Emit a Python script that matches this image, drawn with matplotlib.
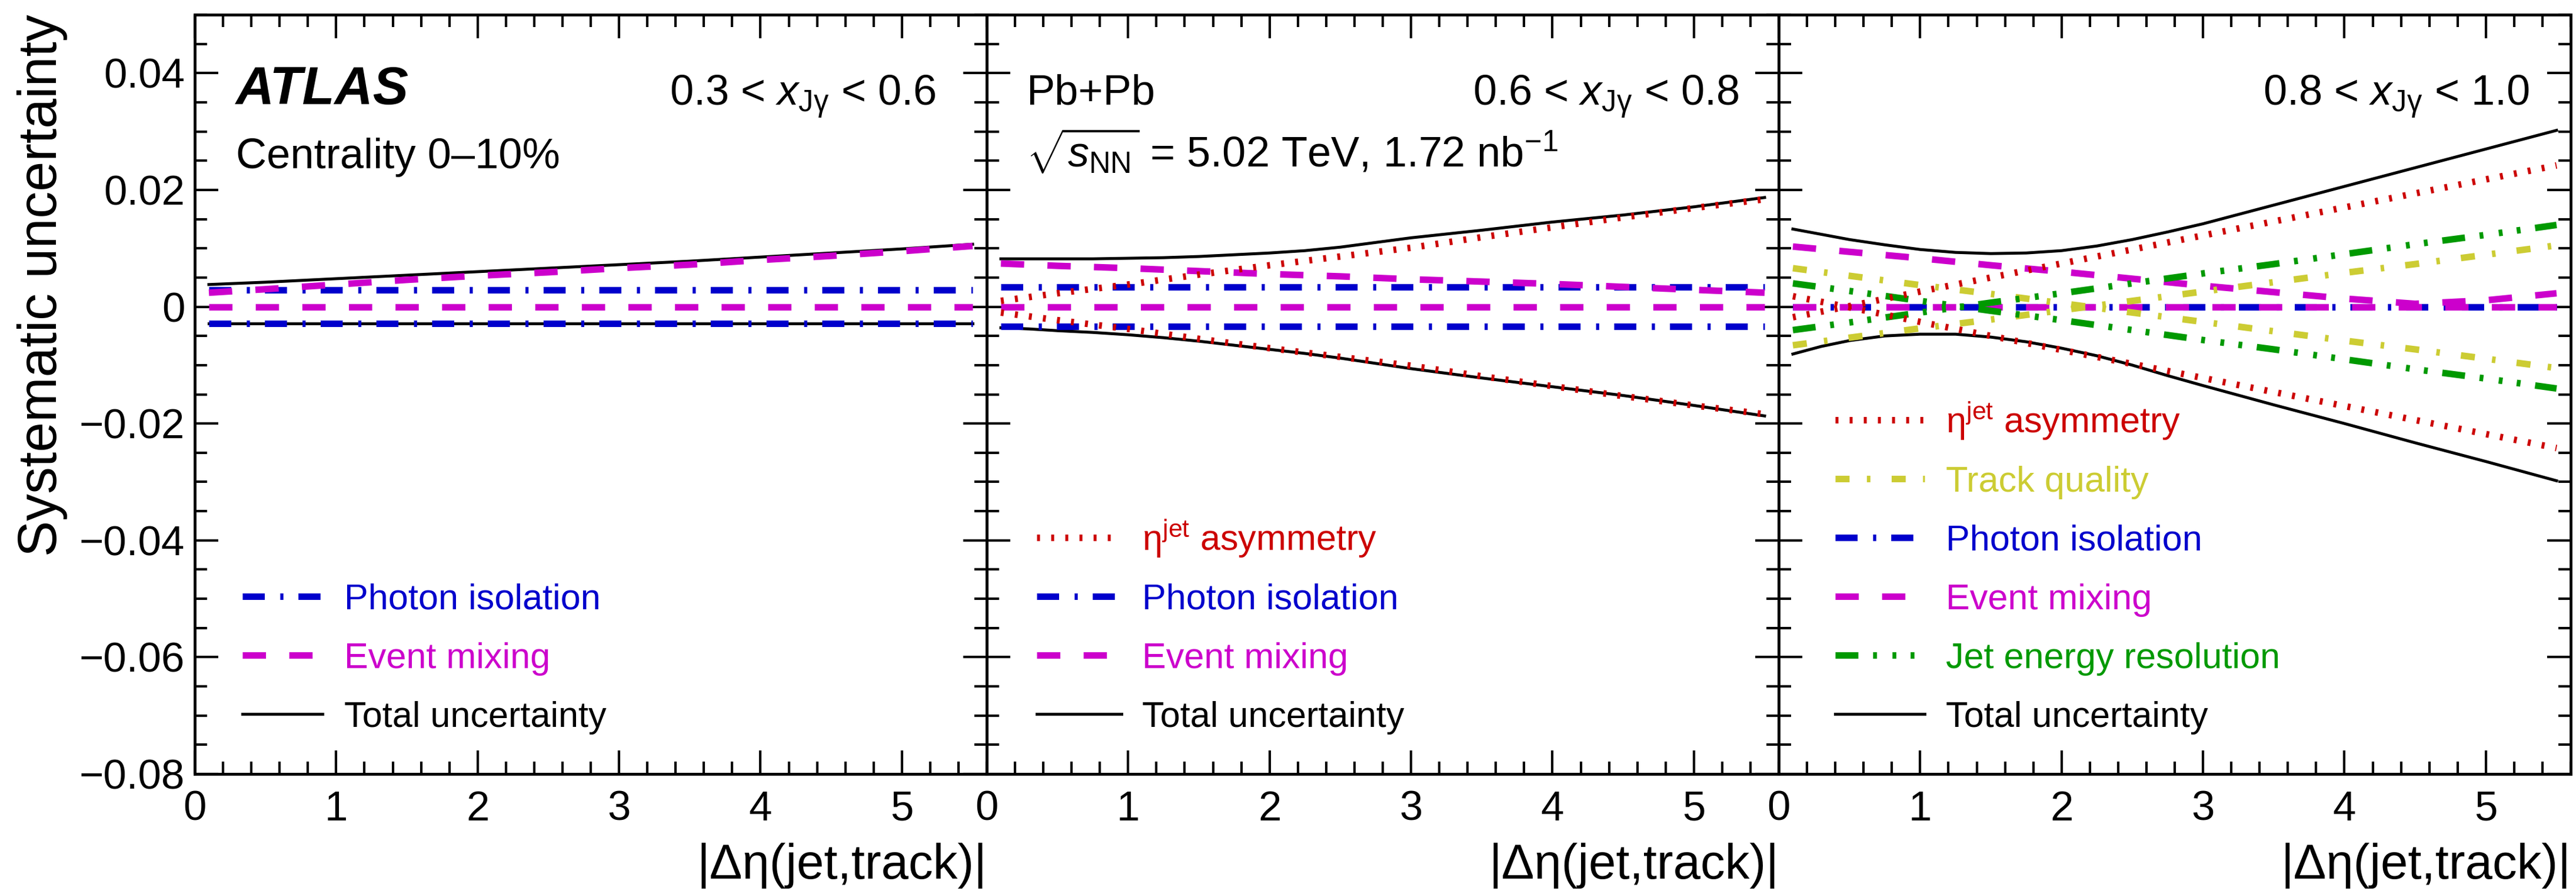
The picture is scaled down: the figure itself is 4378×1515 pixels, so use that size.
import matplotlib
matplotlib.use('Agg')
import matplotlib.pyplot as plt
from matplotlib.ticker import MultipleLocator, FuncFormatter

plt.rcParams['font.family'] = ['Liberation Sans', 'DejaVu Sans']
plt.rcParams['mathtext.fontset'] = 'custom'
plt.rcParams['mathtext.rm'] = 'Liberation Sans'
plt.rcParams['mathtext.it'] = 'Liberation Sans:italic'
plt.rcParams['mathtext.bf'] = 'Liberation Sans:bold'
plt.rcParams['lines.scale_dashes'] = False

deta = [0.1, 0.5, 1.0, 1.5, 2.0, 2.5, 3.0, 3.5, 4.0, 4.5, 5.0, 5.5]
# finer points for the (curved) total uncertainty
deta_tot = [0.1, 0.3, 0.5, 0.75, 1.0, 1.25, 1.5, 1.75, 2.0, 2.25, 2.5, 2.75, 3.0, 3.5, 4.0, 4.5, 5.0, 5.5]

# 0.3 < xJg < 0.6
p1_iso_up = [0.0029, 0.0029, 0.0029, 0.0029, 0.0029, 0.0029, 0.0029, 0.0029, 0.0029, 0.0029, 0.0029, 0.0029]
p1_iso_dn = [-0.0029, -0.0029, -0.0029, -0.0029, -0.0029, -0.0029, -0.0029, -0.0029, -0.0029, -0.0029, -0.0029, -0.0029]
p1_mix_up = [0.0024, 0.0030, 0.0038, 0.0046, 0.0053, 0.0059, 0.0066, 0.0072, 0.0080, 0.0087, 0.0095, 0.0104]
p1_mix_dn = [0, 0, 0, 0, 0, 0, 0, 0, 0, 0, 0, 0]
p1_tot_up = [0.0038, 0.0040, 0.0042, 0.0045, 0.0048, 0.0051, 0.0054, 0.0057, 0.0060, 0.0063, 0.0066, 0.0069,
             0.0072, 0.0078, 0.0085, 0.0092, 0.0099, 0.0107]
p1_tot_dn = [-0.0029, -0.0029, -0.0029, -0.0029, -0.0029, -0.0029, -0.0029, -0.0029, -0.0029, -0.0029, -0.0029,
             -0.0029, -0.0029, -0.0029, -0.0029, -0.0029, -0.0029, -0.0029]

# 0.6 < xJg < 0.8
p2_iso_up = [0.0034, 0.0034, 0.0034, 0.0034, 0.0034, 0.0034, 0.0034, 0.0034, 0.0034, 0.0034, 0.0034, 0.0034]
p2_iso_dn = [-0.0034, -0.0034, -0.0034, -0.0034, -0.0034, -0.0034, -0.0034, -0.0034, -0.0034, -0.0034, -0.0034, -0.0034]
p2_mix_up = [0.0074, 0.0070, 0.0066, 0.0061, 0.0056, 0.0052, 0.0047, 0.0043, 0.0039, 0.0034, 0.0029, 0.0024]
p2_mix_dn = [0, 0, 0, 0, 0, 0, 0, 0, 0, 0, 0, 0]
p2_eta_up = [0.0010, 0.0023, 0.0038, 0.0055, 0.0071, 0.0086, 0.0101, 0.0119, 0.0136, 0.0153, 0.0169, 0.0184]
p2_eta_dn = [-0.0010, -0.0023, -0.0038, -0.0055, -0.0071, -0.0086, -0.0101, -0.0119, -0.0136, -0.0153, -0.0169, -0.0184]
p2_tot_up = [0.0082, 0.0082, 0.0082, 0.0082, 0.0083, 0.0084, 0.0086, 0.0089, 0.0092, 0.0096, 0.0102, 0.0110,
             0.0118, 0.0131, 0.0145, 0.0157, 0.0171, 0.0187]
p2_tot_dn = [-0.0036, -0.0038, -0.0041, -0.0044, -0.0048, -0.0053, -0.0059, -0.0066, -0.0073, -0.0080, -0.0088,
             -0.0097, -0.0106, -0.0122, -0.0137, -0.0152, -0.0169, -0.0187]

# 0.8 < xJg < 1.0
p3_iso_up = [0, 0, 0, 0, 0, 0, 0, 0, 0, 0, 0, 0]
p3_iso_dn = [0, 0, 0, 0, 0, 0, 0, 0, 0, 0, 0, 0]
p3_mix_up = [0.0103, 0.0094, 0.0083, 0.0071, 0.0060, 0.0048, 0.0036, 0.0025, 0.0014, 0.0005, 0.0011, 0.0023]
p3_mix_dn = [0, 0, 0, 0, 0, 0, 0, 0, 0, 0, 0, 0]
p3_eta_up = [-0.0018, 0.0001, 0.0026, 0.0050, 0.0074, 0.0098, 0.0122, 0.0146, 0.0170, 0.0194, 0.0218, 0.0242]
p3_eta_dn = [0.0018, -0.0001, -0.0026, -0.0050, -0.0074, -0.0098, -0.0122, -0.0146, -0.0170, -0.0194, -0.0218, -0.0242]
p3_trk_up = [0.0066, 0.0053, 0.0037, 0.0022, 0.0006, -0.0010, -0.0026, -0.0042, -0.0058, -0.0073, -0.0089, -0.0105]
p3_trk_dn = [-0.0066, -0.0053, -0.0037, -0.0022, -0.0006, 0.0010, 0.0026, 0.0042, 0.0058, 0.0073, 0.0089, 0.0105]
p3_jer_up = [0.0040, 0.0027, 0.0010, -0.0007, -0.0023, -0.0040, -0.0057, -0.0073, -0.0090, -0.0107, -0.0123, -0.0140]
p3_jer_dn = [-0.0040, -0.0027, -0.0010, 0.0007, 0.0023, 0.0040, 0.0057, 0.0073, 0.0090, 0.0107, 0.0123, 0.0140]
p3_tot_up = [0.0133, 0.0124, 0.0115, 0.0106, 0.0098, 0.0093, 0.0091, 0.0092, 0.0096, 0.0104, 0.0115, 0.0128,
             0.0142, 0.0174, 0.0206, 0.0238, 0.0270, 0.0302]
p3_tot_dn = [-0.0081, -0.0068, -0.0058, -0.0050, -0.0047, -0.0047, -0.0052, -0.0060, -0.0071, -0.0084, -0.0100,
             -0.0118, -0.0135, -0.0168, -0.0200, -0.0233, -0.0265, -0.0298]

bin_labels = [r'0.3 < $x_{\mathrm{J\gamma}}$ < 0.6',
              r'0.6 < $x_{\mathrm{J\gamma}}$ < 0.8',
              r'0.8 < $x_{\mathrm{J\gamma}}$ < 1.0']

labels = {
    'eta': r'η$^{\mathrm{jet}}$ asymmetry',
    'trk': 'Track quality',
    'iso': 'Photon isolation',
    'mix': 'Event mixing',
    'jer': 'Jet energy resolution',
    'tot': 'Total uncertainty',
}

# ROOT-like line styles, dash lengths in points
styles = {
    'tot': dict(color='black', lw=3.6, ls='-'),
    'iso': dict(color='#0000cc', lw=8, dashes=(27, 19, 3.8, 18.4)),
    'mix': dict(color='#cc00cc', lw=8, dashes=(28.5, 28.5)),
    'trk': dict(color='#cccc33', lw=8, dashes=(17.2, 21.2, 4.3, 26)),
    'jer': dict(color='#009900', lw=8, dashes=(28, 18, 4.7, 19, 4.7, 17.5, 4.7, 18)),
    'eta': dict(color='#cc0000', lw=8, dashes=(3.6, 13.7)),
}

panels = [
    dict(curves={'iso': (p1_iso_up, p1_iso_dn), 'mix': (p1_mix_up, p1_mix_dn)},
         total=(p1_tot_up, p1_tot_dn),
         legend=['iso', 'mix', 'tot'], leg_x=(0.060, 0.161, 0.189), bin_x=0.936),
    dict(curves={'iso': (p2_iso_up, p2_iso_dn), 'mix': (p2_mix_up, p2_mix_dn),
                 'eta': (p2_eta_up, p2_eta_dn)},
         total=(p2_tot_up, p2_tot_dn),
         legend=['eta', 'iso', 'mix', 'tot'], leg_x=(0.063, 0.170, 0.196), bin_x=0.950),
    dict(curves={'iso': (p3_iso_up, p3_iso_dn), 'mix': (p3_mix_up, p3_mix_dn),
                 'trk': (p3_trk_up, p3_trk_dn), 'jer': (p3_jer_up, p3_jer_dn),
                 'eta': (p3_eta_up, p3_eta_dn)},
         total=(p3_tot_up, p3_tot_dn),
         legend=['eta', 'trk', 'iso', 'mix', 'jer', 'tot'], leg_x=(0.071, 0.184, 0.211), bin_x=0.948),
]

W, H = 4378, 1515
fig = plt.figure(figsize=(W / 100, H / 100), dpi=100)

left, right, bottom, top = 331, 4369, 1316, 25
pw = (right - left) / 3


def yfmt(v, pos):
    if abs(v) < 1e-9:
        return '0'
    return f'{v:.2f}'.replace('-', '\u2212')


axes = []
for i, p in enumerate(panels):
    ax = fig.add_axes([(left + i * pw) / W, (H - bottom) / H, pw / W, (bottom - top) / H])
    axes.append(ax)
    ax.set_xlim(0, 5.6)
    ax.set_ylim(-0.08, 0.05)

    # total first, the components on top of it
    for band in p['total']:
        ax.plot(deta_tot, band, **styles['tot'])
    for key in ['iso', 'mix', 'trk', 'jer', 'eta']:
        if key not in p['curves']:
            continue
        up, dn = p['curves'][key]
        ax.plot(deta, up, **styles[key])
        ax.plot(deta, dn, **styles[key])

    # legend, drawn ROOT style
    x0, x1, xt = p['leg_x']
    for j, key in enumerate(reversed(p['legend'])):
        y = 0.079 + 0.0775 * j
        ax.plot([x0, x1], [y, y], transform=ax.transAxes, clip_on=False, **styles[key])
        ax.text(xt, y - 0.017, labels[key], transform=ax.transAxes, fontsize=44,
                color=styles[key]['color'], ha='left', va='baseline')

    ax.text(p['bin_x'], 0.881, bin_labels[i], transform=ax.transAxes, fontsize=52,
            ha='right', va='baseline')

    ax.xaxis.set_major_locator(MultipleLocator(1))
    ax.xaxis.set_minor_locator(MultipleLocator(0.2))
    ax.yaxis.set_major_locator(MultipleLocator(0.02))
    ax.yaxis.set_minor_locator(MultipleLocator(0.005))
    ax.xaxis.set_major_formatter(FuncFormatter(lambda v, pos: f'{v:.0f}' if v < 5.5 else ''))
    ax.yaxis.set_major_formatter(FuncFormatter(yfmt))
    ax.tick_params(which='both', direction='in', top=True, right=True, width=3)
    ax.tick_params(which='major', length=29, labelsize=51)
    ax.tick_params(which='minor', length=15)
    ax.tick_params(axis='x', pad=20)
    ax.tick_params(axis='y', pad=12)
    if i > 0:
        ax.tick_params(axis='y', labelleft=False)
    for s in ax.spines.values():
        s.set_linewidth(3.5)

    ax.set_xlabel('|Δη(jet,track)|', fontsize=60, loc='right')
    ax.xaxis.label.set_va('baseline')
    ax.xaxis.set_label_coords(1.0, -0.138)

a1, a2 = axes[0], axes[1]
a1.text(0.052, 0.882, 'ATLAS', transform=a1.transAxes, fontsize=65,
        fontweight='bold', fontstyle='italic', va='baseline')
a1.text(0.052, 0.798, 'Centrality 0\u201310%', transform=a1.transAxes, fontsize=52, va='baseline')
a2.text(0.050, 0.882, 'Pb+Pb', transform=a2.transAxes, fontsize=52, va='baseline')
a2.text(0.050, 0.799, r'$\sqrt{s_{\mathrm{NN}}}$ = 5.02 TeV, 1.72 nb$^{\mathrm{-1}}$',
        transform=a2.transAxes, fontsize=52, va='baseline')

fig.text(0.0164, 1 - 24 / H, 'Systematic uncertainty', rotation=90, fontsize=66,
         ha='center', va='top')

fig.savefig('out.png', dpi=100, facecolor='white')
